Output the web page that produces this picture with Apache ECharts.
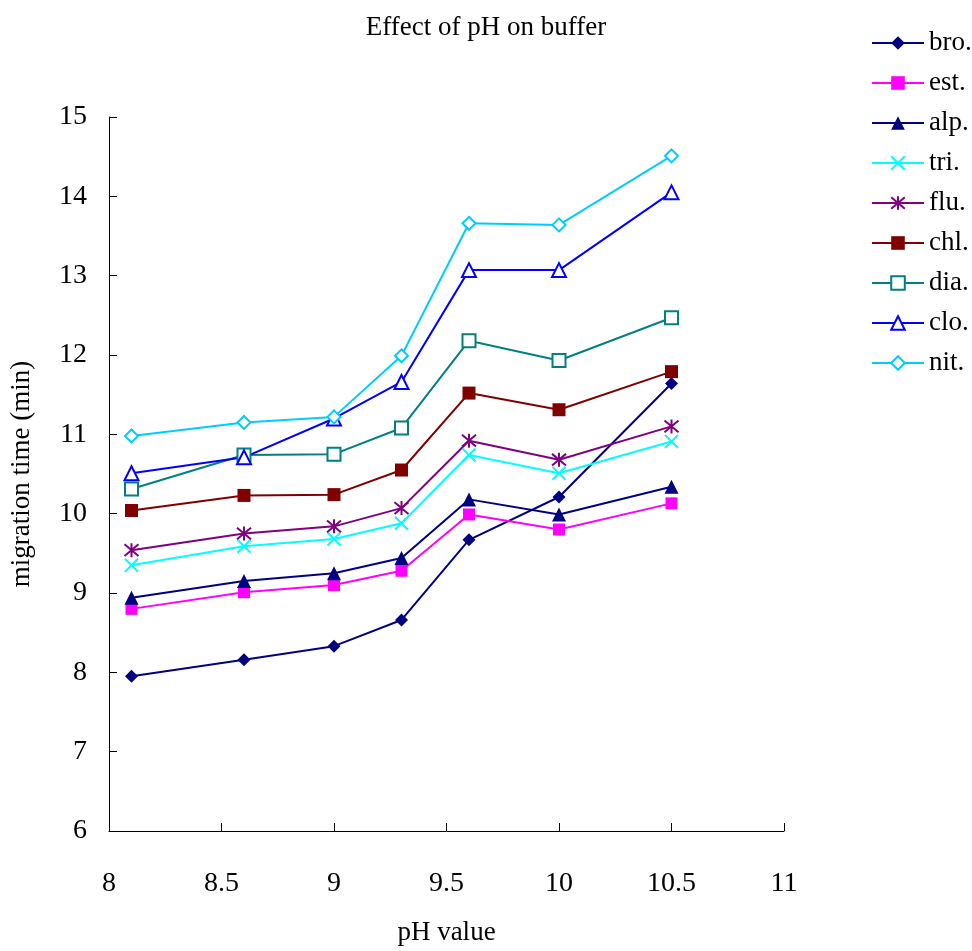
<!DOCTYPE html>
<html>
<head>
<meta charset="utf-8">
<script src="https://cdn.jsdelivr.net/npm/echarts@6/dist/echarts.min.js"></script>
<style>html,body{margin:0;padding:0;background:#fff}#c{width:972px;height:951px}</style>
</head>
<body>
<div id="c"></div>
<script>
const phValues = [8.1, 8.6, 9.0, 9.3, 9.6, 10.0, 10.5];
const seriesNames = ['bro.', 'est.', 'alp.', 'tri.', 'flu.', 'chl.', 'dia.', 'clo.', 'nit.'];
const bro = [7.95, 8.16, 8.33, 8.66, 9.67, 10.21, 11.64];
const est = [8.80, 9.01, 9.10, 9.28, 9.99, 9.80, 10.13];
const alp = [8.94, 9.15, 9.25, 9.44, 10.18, 9.99, 10.34];
const tri = [9.35, 9.59, 9.68, 9.88, 10.74, 10.51, 10.91];
const flu = [9.54, 9.75, 9.84, 10.07, 10.92, 10.68, 11.10];
const chl = [10.04, 10.23, 10.24, 10.55, 11.52, 11.31, 11.79];
const dia = [10.31, 10.74, 10.75, 11.08, 12.18, 11.93, 12.47];
const clo = [10.51, 10.71, 11.20, 11.66, 13.07, 13.07, 14.05];
const nit = [10.98, 11.15, 11.22, 11.99, 13.66, 13.64, 14.51];
const allData = [bro, est, alp, tri, flu, chl, dia, clo, nit];

const colors = ['#000080', '#FF00FF', '#000080', '#00FFFF', '#800080', '#800000', '#008080', '#0000FF', '#00CCFF'];
const xPath = 'path://M0,0L10,10M10,0L0,10';
const starPath = 'path://M0,0L10,10M10,0L0,10M5,-1L5,11';
const symbols = ['diamond', 'rect', 'triangle', xPath, starPath, 'rect', 'emptyRect', 'emptyTriangle', 'emptyDiamond'];
const sizes = [13, 12, 14, 13, 14, 13, 13, 14, 13];
const FONT = 'Liberation Serif';

const series = seriesNames.map((n, i) => ({
  name: n,
  type: 'line',
  data: phValues.map((x, j) => [x, allData[i][j]]),
  symbol: symbols[i],
  symbolSize: sizes[i],
  showSymbol: true,
  animation: false,
  lineStyle: { color: colors[i], width: 2 },
  itemStyle: (i === 3 || i === 4)
    ? { color: colors[i], borderColor: colors[i], borderWidth: 2 }
    : (i >= 6 ? { color: colors[i], borderWidth: 2 } : { color: colors[i] }),
  emphasis: { disabled: true }
}));

const chart = echarts.init(document.getElementById('c'));
chart.setOption({
  backgroundColor: '#fff',
  animation: false,
  title: {
    text: 'Effect of pH on buffer',
    left: 'center', top: 9,
    textStyle: { fontFamily: FONT, fontSize: 27, fontWeight: 'normal', color: '#000' }
  },
  legend: {
    orient: 'vertical', left: 866, top: 24,
    itemWidth: 52, itemHeight: 17, itemGap: 12,
    textStyle: { fontFamily: FONT, fontSize: 27, color: '#000', lineHeight: 28 },
    data: seriesNames
  },
  grid: { left: 106, right: 188, top: 117, bottom: 117 },
  xAxis: {
    type: 'value', min: 8, max: 11, interval: 0.5,
    name: 'pH value', nameLocation: 'middle', nameGap: 88,
    nameTextStyle: { fontFamily: FONT, fontSize: 27, color: '#000' },
    axisLine: { show: true, lineStyle: { color: '#000', width: 1 } },
    axisTick: { show: true, inside: true, length: 8, lineStyle: { color: '#000' } },
    axisLabel: { fontFamily: FONT, fontSize: 28, color: '#000', margin: 39 },
    splitLine: { show: false }
  },
  yAxis: {
    type: 'value', min: 6, max: 15, interval: 1,
    name: 'migration time (min)', nameLocation: 'middle', nameGap: 74,
    nameTextStyle: { fontFamily: FONT, fontSize: 27, color: '#000' },
    axisLine: { show: true, lineStyle: { color: '#000', width: 1 } },
    axisTick: { show: true, inside: true, length: 8, lineStyle: { color: '#000' } },
    axisLabel: { fontFamily: FONT, fontSize: 28, color: '#000', margin: 22 },
    splitLine: { show: false }
  },
  series: series
});
</script>
</body>
</html>
